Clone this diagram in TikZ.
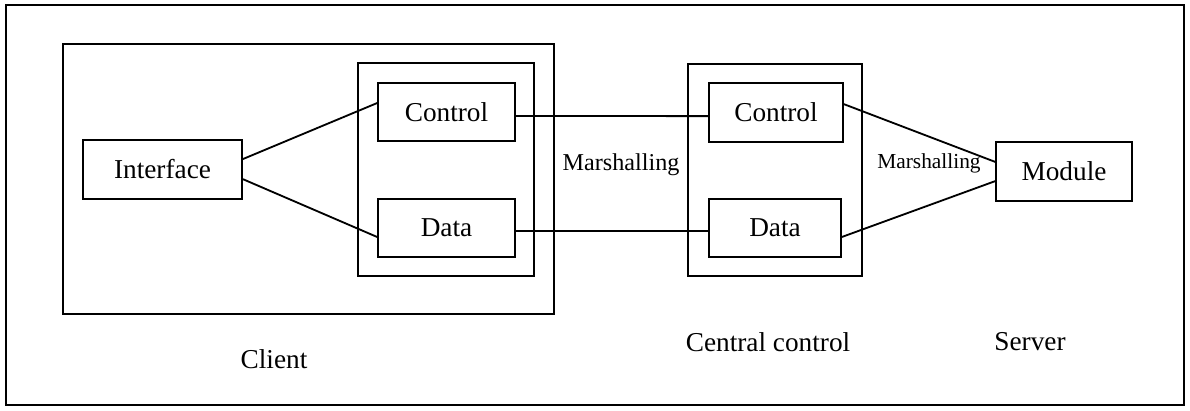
\documentclass[tikz,border=0pt]{standalone}
\usepackage{fontspec}
\setmainfont{Liberation Serif}
\usetikzlibrary{positioning}

\tikzset{
  box/.style={draw,line width=1.1pt,rectangle,inner sep=0pt,font=\fontsize{19.4}{22}\selectfont},
  group/.style={draw,line width=1.1pt,rectangle,inner sep=0pt},
  link/.style={draw,line width=1.3pt},
  caption/.style={font=\fontsize{19.4}{22}\selectfont}
}

\begin{document}
\begin{tikzpicture}[x=0.025cm,y=-0.025cm]
\useasboundingbox (0,0) rectangle (1190,410);
\draw[line width=1.1pt] (6,5) rectangle (1184,405);

% containers
\node[group,minimum width=12.275cm,minimum height=6.75cm] (client) at (308.5,179) {};
\node[group,minimum width=4.4cm,minimum height=5.325cm] (clientin) at (446,169.5) {};
\node[group,minimum width=4.35cm,minimum height=5.3cm] (central) at (775,170) {};

% boxes
\node[box,minimum width=3.975cm,minimum height=1.475cm] (ifc) at (162.5,169.5) {Interface};
\node[box,minimum width=3.425cm,minimum height=1.45cm] (cctl) at (446.5,112) {Control};
\node[box,minimum width=3.425cm,minimum height=1.45cm] (cdat) at (446.5,228) {Data};
\node[box,minimum width=3.35cm,minimum height=1.475cm] (mctl) at (776,112.5) {Control};
\node[box,minimum width=3.3cm,minimum height=1.45cm] (mdat) at (775,228) {Data};
\node[box,minimum width=3.4cm,minimum height=1.475cm] (mod) at (1064,171.5) {Module};

% connectors
\draw[link] ([yshift=0.26cm]ifc.east) -- ([yshift=0.225cm]cctl.west);
\draw[link] ([yshift=-0.24cm]ifc.east) -- ([yshift=-0.225cm]cdat.west);
\draw[link] ([yshift=-0.1cm]cctl.east) -- ([yshift=-0.09cm]mctl.west);
\draw[link] ([yshift=-0.075cm]cdat.east) -- ([yshift=-0.075cm]mdat.west);
\draw[link] ([yshift=0.21cm]mctl.east) -- ([yshift=0.24cm]mod.west);
\draw[link] ([yshift=-0.225cm]mdat.east) -- ([yshift=-0.24cm]mod.west);

% labels
\node[font=\fontsize{17.2}{20}\selectfont] (marsh) at (621,165) {Marshalling};
\node[font=\fontsize{15.2}{18}\selectfont] (marshs) at (929,163) {Marshalling};
\node[caption] (lclient) at (274,359) {Client};
\node[caption] (lcentral) at (768,342) {Central control};
\node[caption] (lserver) at (1030,342) {Server};

\end{tikzpicture}
\end{document}
